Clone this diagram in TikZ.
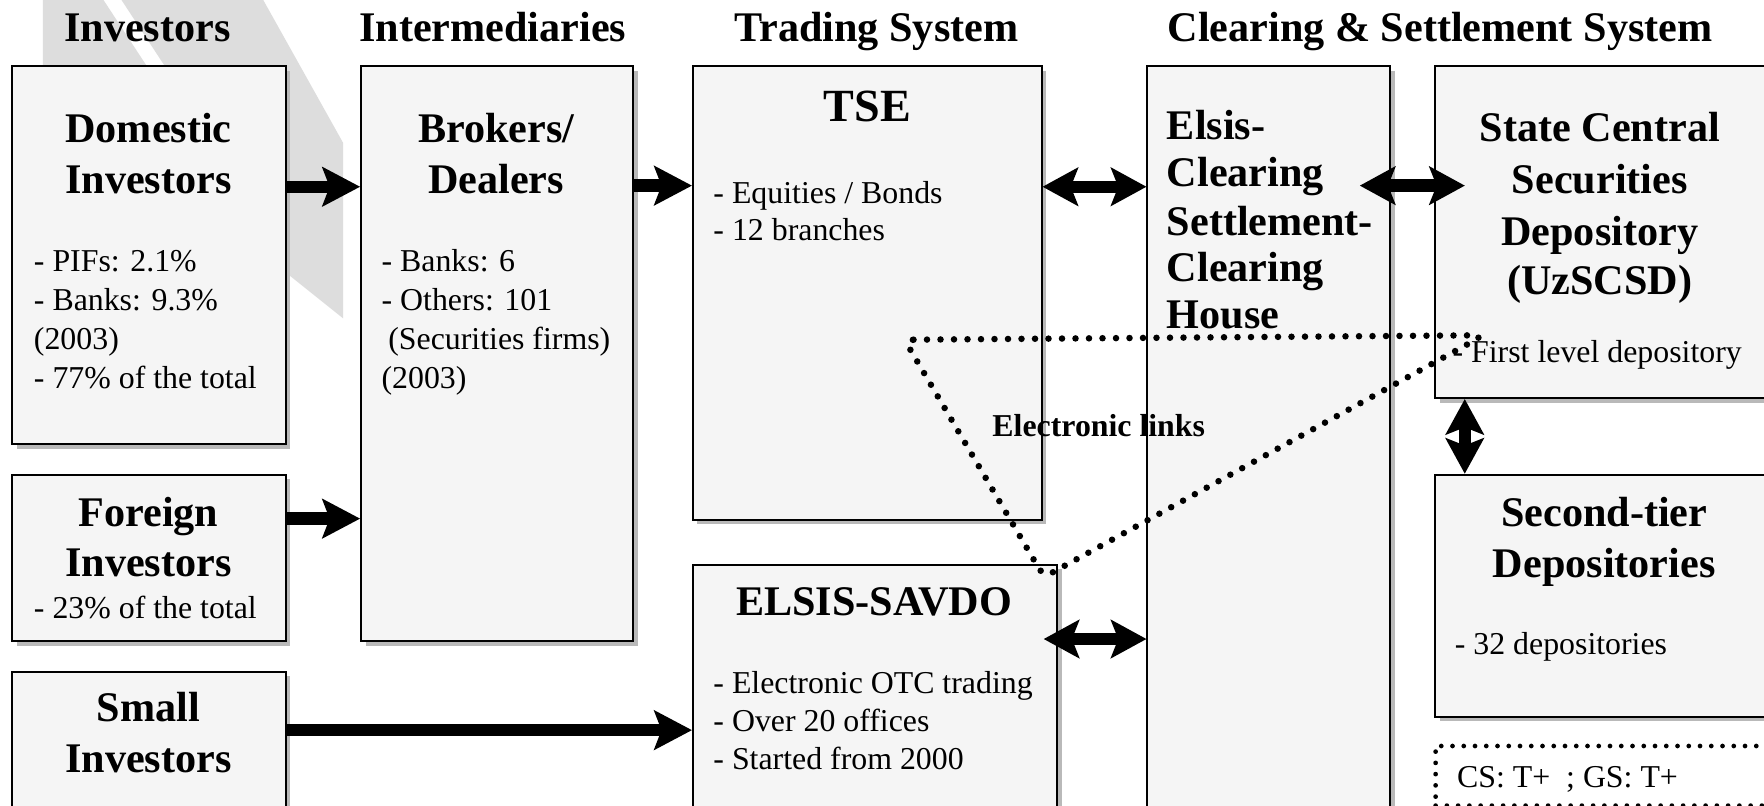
\documentclass[tikz,border=0pt]{standalone}
\usepackage{fontspec}
\setmainfont{Liberation Serif}
\usetikzlibrary{arrows.meta,shadows}
\definecolor{boxfill}{RGB}{245,245,245}
\definecolor{wm}{RGB}{221,221,221}
\definecolor{shadowgray}{RGB}{185,185,185}
\begin{document}
\begin{tikzpicture}[x=1pt,y=-1pt,
  box/.style={draw=black,line width=1.8pt,fill=boxfill,anchor=north west,inner sep=0pt,
     drop shadow={shadow xshift=4pt,shadow yshift=-4pt,fill=shadowgray,opacity=1}},
  hd/.style={font=\bfseries\fontsize{37.5}{45}\selectfont,anchor=base,inner sep=0pt},
  ttl/.style={font=\bfseries\fontsize{37.5}{45}\selectfont,anchor=base,inner sep=0pt},
  ttw/.style={font=\bfseries\fontsize{37.5}{45}\selectfont,anchor=base west,inner sep=0pt},
  bt/.style={font=\fontsize{28.3}{34}\selectfont,anchor=base west,inner sep=0pt},
  btb/.style={font=\bfseries\fontsize{28.3}{34}\selectfont,anchor=base west,inner sep=0pt},
  barrow/.style={line width=11pt,-{Stealth[length=34pt,width=36pt,inset=7pt,line width=0pt]}},
  dbarrow/.style={line width=11pt,{Stealth[length=32pt,width=35pt,inset=7pt,line width=0pt]}-{Stealth[length=32pt,width=35pt,inset=7pt,line width=0pt]}},
  elink/.style={line width=5.8pt,dash pattern=on 0pt off 12pt,line cap=round,rounded corners=8pt},
  csbox/.style={draw=black,line width=4.2pt,dash pattern=on 0pt off 10pt,line cap=round,anchor=north west,inner sep=0pt}
]
\useasboundingbox (0,0) rectangle (1568,716);
\clip (0,0) rectangle (1568,716);
\fill[white] (0,0) rectangle (1568,716);

% watermark
\fill[wm] (38,0) -- (92,0) -- (130,58) -- (38,58) -- cycle;
\fill[wm] (108,0) -- (190,0) -- (190,58) -- (146,58) -- cycle;
\fill[wm] (190,0) -- (234,0) -- (305,127) -- (305,283) -- (190,191) -- cycle;

% headers
\node[hd] (h1) at (131,37) {Investors};
\node[hd] (h2) at (438,37) {Intermediaries};
\node[hd] (h3) at (779,37) {Trading System};
\node[hd] (h4) at (1280,37) {Clearing \& Settlement System};

% boxes
\node[box,minimum width=243pt,minimum height=336pt] (dom) at (10,58) {};
\node[box,minimum width=243pt,minimum height=148pt] (for) at (10,421) {};
\node[box,minimum width=243pt,minimum height=160pt] (small) at (10,596) {};
\node[box,minimum width=242pt,minimum height=511pt] (brok) at (320,58) {};
\node[box,minimum width=310pt,minimum height=403pt] (tse) at (615,58) {};
\node[box,minimum width=324pt,minimum height=250pt] (savdo) at (615,501) {};
\node[box,minimum width=216pt,minimum height=700pt] (elsis) at (1019,58) {};
\node[box,minimum width=325pt,minimum height=295pt] (scsd) at (1275,58) {};
\node[box,minimum width=325pt,minimum height=215pt] (second) at (1275,421) {};
\node[csbox,minimum width=326pt,minimum height=53pt] (cs) at (1274,661) {};

% texts
\node[ttl] (domA) at (132,127) {Domestic};
\node[ttl] (domB) at (132,172) {Investors};
\node[bt] (dom1) at (30,241) {- PIFs: 2.1\%};
\node[bt] (dom2) at (30,276) {- Banks: 9.3\%};
\node[bt] (dom3) at (30,311) {(2003)};
\node[bt] (dom4) at (30,345) {- 77\% of the total};

\node[ttl] (brA) at (441,127) {Brokers/};
\node[ttl] (brB) at (441,172) {Dealers};
\node[bt] (br1) at (339,241) {- Banks: 6};
\node[bt] (br2) at (339,276) {- Others: 101};
\node[bt] (br3) at (345,311) {(Securities firms)};
\node[bt] (br4) at (339,345) {(2003)};

\node[ttl] (foA) at (132,468) {Foreign};
\node[ttl] (foB) at (132,512) {Investors};
\node[bt] (fo1) at (30,550) {- 23\% of the total};

\node[ttl] (smA) at (132,641) {Small};
\node[ttl] (smB) at (132,687) {Investors};

\node[font=\bfseries\fontsize{41}{48}\selectfont,anchor=base,inner sep=0pt] (tseA) at (771,108) {TSE};
\node[bt] (tse1) at (634,181) {- Equities / Bonds};
\node[bt] (tse2) at (634,214) {- 12 branches};

\node[ttl] (svA) at (777,547) {ELSIS-SAVDO};
\node[bt] (sv1) at (634,616) {- Electronic OTC trading};
\node[bt] (sv2) at (634,650) {- Over 20 offices};
\node[bt] (sv3) at (634,684) {- Started from 2000};

\node[ttw] (elA) at (1037,124) {Elsis-};
\node[ttw] (elB) at (1037,166) {Clearing};
\node[ttw] (elC) at (1037,209) {Settlement-};
\node[ttw] (elD) at (1037,250) {Clearing};
\node[ttw] (elE) at (1037,292) {House};

\node[ttl] (scA) at (1422,126) {State Central};
\node[ttl] (scB) at (1422,172) {Securities};
\node[ttl] (scC) at (1422,218) {Depository};
\node[ttl] (scD) at (1422,262) {(UzSCSD)};
\node[bt] (sc1) at (1291,322) {- First level depository};

\node[ttl] (seA) at (1426,468) {Second-tier};
\node[ttl] (seB) at (1426,513) {Depositories};
\node[bt] (se1) at (1293,582) {- 32 depositories};

\node[bt] (cs1) at (1295,700) {CS: T+\ \ ; GS: T+};

\node[btb] (ell) at (882,388) {Electronic links};

% arrows
\draw[barrow] (dom.east |- 0,166) -- (brok.west |- 0,166);
\draw[barrow] (brok.east |- 0,165) -- (tse.west |- 0,165);
\draw[barrow] (for.east |- 0,461) -- (brok.west |- 0,461);
\draw[barrow] (small.east |- 0,649) -- (savdo.west |- 0,649);
\draw[dbarrow] (tse.east |- 0,166) -- (elsis.west |- 0,166);
\draw[dbarrow] ([xshift=-28pt]elsis.east |- 0,165) -- ([xshift=27pt]scsd.west |- 0,165);
\draw[dbarrow] ([xshift=-13pt]savdo.east |- 0,568) -- (elsis.west |- 0,568);
\draw[dbarrow] (scsd.south -| 1302,0) -- (second.north -| 1302,0);

% electronic links
\coordinate (e1) at (804,302);
\coordinate (e2) at (1319,298);
\coordinate (e3) at (928,513);
\draw[elink] (e1) -- (e2) -- (e3) -- cycle;
\end{tikzpicture}
\end{document}
